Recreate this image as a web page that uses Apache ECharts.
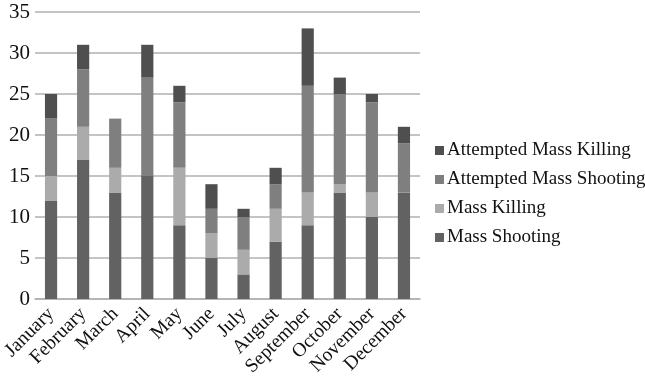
<!DOCTYPE html>
<html>
<head>
<meta charset="utf-8">
<script src="https://cdn.jsdelivr.net/npm/echarts@6/dist/echarts.min.js"></script>
<style>
  html, body { margin: 0; padding: 0; background: #fff; }
  #chart { width: 645px; height: 378px; }
</style>
</head>
<body>
<div id="chart"></div>
<script>
// Monthly incident counts, stacked by incident type
const months = ['January', 'February', 'March', 'April', 'May', 'June',
                'July', 'August', 'September', 'October', 'November', 'December'];
const massShooting          = [12, 17, 13, 15, 9, 5, 3, 7, 9, 13, 10, 13];
const massKilling           = [3, 4, 3, 0, 7, 3, 3, 4, 4, 1, 3, 0];
const attemptedMassShooting = [7, 7, 6, 12, 8, 3, 4, 3, 13, 11, 11, 6];
const attemptedMassKilling  = [3, 3, 0, 4, 2, 3, 1, 2, 7, 2, 1, 2];
const yTicks = [0, 5, 10, 15, 20, 25, 30, 35];

const serifFont = '"Liberation Serif", "Times New Roman", serif';

function bar(name, data, color) {
  return {
    name: name,
    type: 'bar',
    stack: 'total',
    data: data,
    barWidth: '38%',
    itemStyle: { color: color },
    emphasis: { disabled: true }
  };
}

const chart = echarts.init(document.getElementById('chart'), null, { renderer: 'canvas' });
chart.setOption({
  animation: false,
  backgroundColor: '#ffffff',
  grid: { left: 35, right: 225, top: 12, bottom: 79, containLabel: false, outerBoundsMode: 'none' },
  legend: {
    orient: 'vertical',
    left: 430,
    top: 136,
    itemWidth: 9,
    itemHeight: 9,
    itemGap: 10,
    icon: 'rect',
    textStyle: { fontFamily: serifFont, fontSize: 19, color: '#111', padding: [0, 0, 0, -2] },
    data: ['Attempted Mass Killing', 'Attempted Mass Shooting', 'Mass Killing', 'Mass Shooting']
  },
  xAxis: {
    type: 'category',
    data: months,
    axisLine: { show: true, lineStyle: { color: '#b0b0b0', width: 1.5 } },
    axisTick: { show: false },
    axisLabel: {
      interval: 0,
      rotate: 45,
      margin: 12,
      // top padding nudges the rotated labels down and to the right of each bar
      padding: [30, 0, 0, 0],
      fontFamily: serifFont,
      fontSize: 19.5,
      color: '#111'
    }
  },
  yAxis: {
    type: 'value',
    min: yTicks[0],
    max: yTicks[yTicks.length - 1],
    interval: 5,
    axisLine: { show: false },
    axisTick: { show: false },
    splitLine: { lineStyle: { color: '#b0b0b0', width: 1.5 } },
    axisLabel: {
      margin: 5,
      fontFamily: serifFont,
      fontSize: 21,
      color: '#111'
    }
  },
  series: [
    bar('Mass Shooting', massShooting, '#626262'),
    bar('Mass Killing', massKilling, '#ababab'),
    bar('Attempted Mass Shooting', attemptedMassShooting, '#7f7f7f'),
    bar('Attempted Mass Killing', attemptedMassKilling, '#4f4f4f')
  ]
});
</script>
</body>
</html>
